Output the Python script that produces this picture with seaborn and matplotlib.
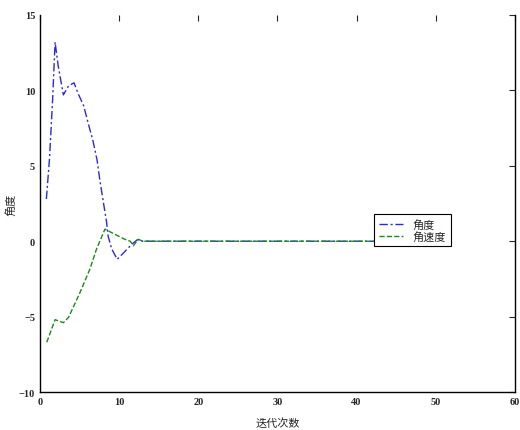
import numpy as np
import pandas as pd
import seaborn as sns
import matplotlib
matplotlib.use("Agg")
import matplotlib.pyplot as plt

# angle curve (blue, dash-dot)
angle_x = [0.8, 1.2, 1.6, 1.9, 2.3, 2.95, 3.6, 4.3, 4.8, 5.5, 6.3, 6.65, 7.2, 7.6,
           8.0, 8.4, 8.6, 9.05, 9.75, 10.5, 11.6, 12.3, 13.0, 50.0]
angle_y = [2.8, 5.5, 9.5, 13.2, 11.6, 9.7, 10.3, 10.5, 9.8, 9.0, 7.4, 6.75, 5.4, 3.9,
           2.6, 1.3, 0.35, -0.5, -1.2, -0.8, -0.2, 0.1, 0.0, 0.0]

# angular velocity curve (green, dashed)
vel_x = [0.85, 1.9, 2.95, 3.6, 5.05, 6.3, 7.15, 8.2, 9.05, 10.7, 11.4, 11.8, 12.4, 13.0, 50.0]
vel_y = [-6.7, -5.2, -5.4, -5.05, -3.4, -1.85, -0.5, 0.8, 0.57, 0.13, 0.0, -0.3, 0.13, 0.0, 0.0]

labels = ["角度", "角速度"]
xticks = [0, 10, 20, 30, 40, 50, 60]
yticks = [-10, -5, 0, 5, 10, 15]

sns.set_style("white")
plt.rcParams['font.family'] = ['Liberation Serif', 'Noto Sans CJK SC']

df_a = pd.DataFrame({'x': angle_x, 'y': angle_y})
df_v = pd.DataFrame({'x': vel_x, 'y': vel_y})

fig = plt.figure(figsize=(5.2, 4.31), dpi=100)
ax = fig.add_axes([0.077, 0.088, 0.913, 0.875])

sns.lineplot(data=df_a, x='x', y='y', sort=False, ax=ax, color='#2a2ad8',
             linewidth=1.0, label=labels[0], dashes=False)
ax.lines[-1].set_dashes([6, 2, 1.5, 2])
sns.lineplot(data=df_v, x='x', y='y', sort=False, ax=ax, color='#1a8a1a',
             linestyle='--', linewidth=1.0, label=labels[1])

ax.set_xlim(0, 60)
ax.set_ylim(-10, 15)
ax.set_xticks(xticks)
ax.set_yticks(yticks)
ax.tick_params(direction='in', length=4, labelsize=7.5, width=0.8,
               top=True, right=True)
for lab in ax.get_xticklabels() + ax.get_yticklabels():
    lab.set_fontweight('bold')
for s in ax.spines.values():
    s.set_color('black')
    s.set_linewidth(1.0)
ax.spines['top'].set_visible(False)

ax.set_xlabel("迭代次数", fontsize=8, family=['Noto Sans CJK SC'], labelpad=8)
ax.set_ylabel("角度", fontsize=8, family=['Noto Sans CJK SC'], labelpad=2)

leg = ax.legend(loc='upper left', bbox_to_anchor=(42.2, 1.8),
                bbox_transform=ax.transData, handlelength=2.2,
                borderpad=0.45, labelspacing=0.05, fancybox=False,
                framealpha=1.0, edgecolor='black', borderaxespad=0,
                prop={'family': ['Noto Sans CJK SC'], 'size': 8})
leg.get_frame().set_linewidth(0.8)
leg.get_lines()[0].set_dashes([6, 2, 1.5, 2])

fig.savefig("out.png", dpi=100)
